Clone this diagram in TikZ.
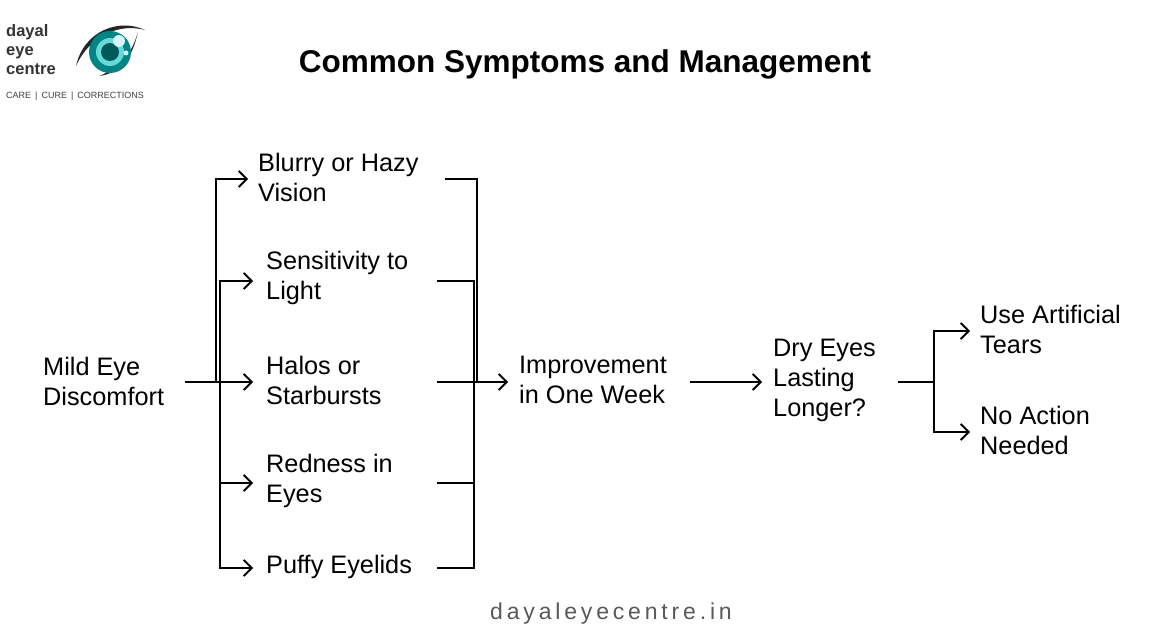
\documentclass[tikz,border=0pt]{standalone}
\usepackage{fontspec}
\setmainfont{Liberation Sans}
\usetikzlibrary{arrows.meta}
\begin{document}
\begin{tikzpicture}[x=1pt,y=-1pt,
  lab/.style={anchor=west,align=left,inner sep=0pt,font=\fontsize{25.3}{30}\selectfont},
  ln/.style={line width=1.8pt,black},
  ar/.style={ln,-{Straight Barb[length=8pt,width=16pt,line width=1.8pt]}}]
\useasboundingbox (0,0) rectangle (1170,628);
\fill[white] (0,0) rectangle (1170,628);
% logo
\node[anchor=west,align=left,inner sep=0pt,font=\bfseries\fontsize{16.5}{19}\selectfont,text=black!80] (lg) at (6,50) {dayal\\eye\\centre};
\node[anchor=west,inner sep=0pt,font=\fontsize{9}{10}\selectfont,text=black!75] (tag) at (6,96) {CARE \,|\, CURE \,|\, CORRECTIONS};
\fill[black!85] (76,66) .. controls (84,30) and (120,18) .. (145,30) .. controls (120,23) and (90,35) .. (76,66);
\fill[black!85] (138,32) .. controls (132,58) and (122,72) .. (100,76) .. controls (124,64) and (132,52) .. (138,32);
\coordinate (eyec) at (110,52);
\fill[teal!70!cyan!80!black] (eyec) circle (21);
\fill[teal!50!cyan!60] (eyec) circle (14);
\fill[teal!70!black] (eyec) circle (9);
\fill[white!85!cyan] (119,41) circle (6);
\fill[white!85!cyan] (126,53) circle (2.5);
% title
\node[inner sep=0pt,font=\bfseries\fontsize{31.5}{34}\selectfont] (title) at (585,64) {Common Symptoms and Management};
% nodes
\node[lab] (mild) at (43,381) {Mild Eye\\Discomfort};
\node[lab] (blur) at (258,177) {Blurry or Hazy\\Vision};
\node[lab] (sens) at (266,278) {Sensitivity to\\Light};
\node[lab] (halo) at (266,380) {Halos or\\Starbursts};
\node[lab] (red) at (266,481) {Redness in\\Eyes};
\node[lab] (puff) at (266,567) {Puffy Eyelids};
\node[lab] (imp) at (519,380) {Improvement\\in One Week};
\node[lab] (dry) at (773,380) {Dry Eyes\\Lasting\\Longer?};
\node[lab] (tears) at (980,329) {Use Artificial\\Tears};
\node[lab] (none) at (980,430) {No Action\\Needed};
\node[inner sep=0pt,font=\fontsize{23}{26}\selectfont,text=black!65] (web) at (611,614) {d\,a\,y\,a\,l\,e\,y\,e\,c\,e\,n\,t\,r\,e\,.\,i\,n};
% connectors
\coordinate (a) at (216,382); \coordinate (b) at (220,382);
\draw[ln] (185,382) -- (b);
\draw[ar] (a) |- ([xshift=-10pt]blur.west |- 0,179);
\draw[ar] (220,382) |- (253,281);
\draw[ar] (b) -- (253,382);
\draw[ar] (220,382) |- (253,483);
\draw[ar] (220,382) |- (253,568);
\draw[ln] (445,179) -- (477,179) -- (477,382);
\draw[ln] (437,281) -- (474,281) -- (474,568) -- (437,568);
\draw[ln] (437,483) -- (474,483);
\draw[ln] (437,382) -- (474,382);
\draw[ar] (474,382) -- ([xshift=-11pt]imp.west |- 0,382);
\draw[ar] (690,382) -- ([xshift=-11pt]dry.west |- 0,382);
\draw[ln] (898,382) -- (934,382);
\draw[ar] (934,382) |- ([xshift=-10pt]tears.west |- 0,331);
\draw[ar] (934,382) |- ([xshift=-10pt]none.west |- 0,432);
\end{tikzpicture}
\end{document}
